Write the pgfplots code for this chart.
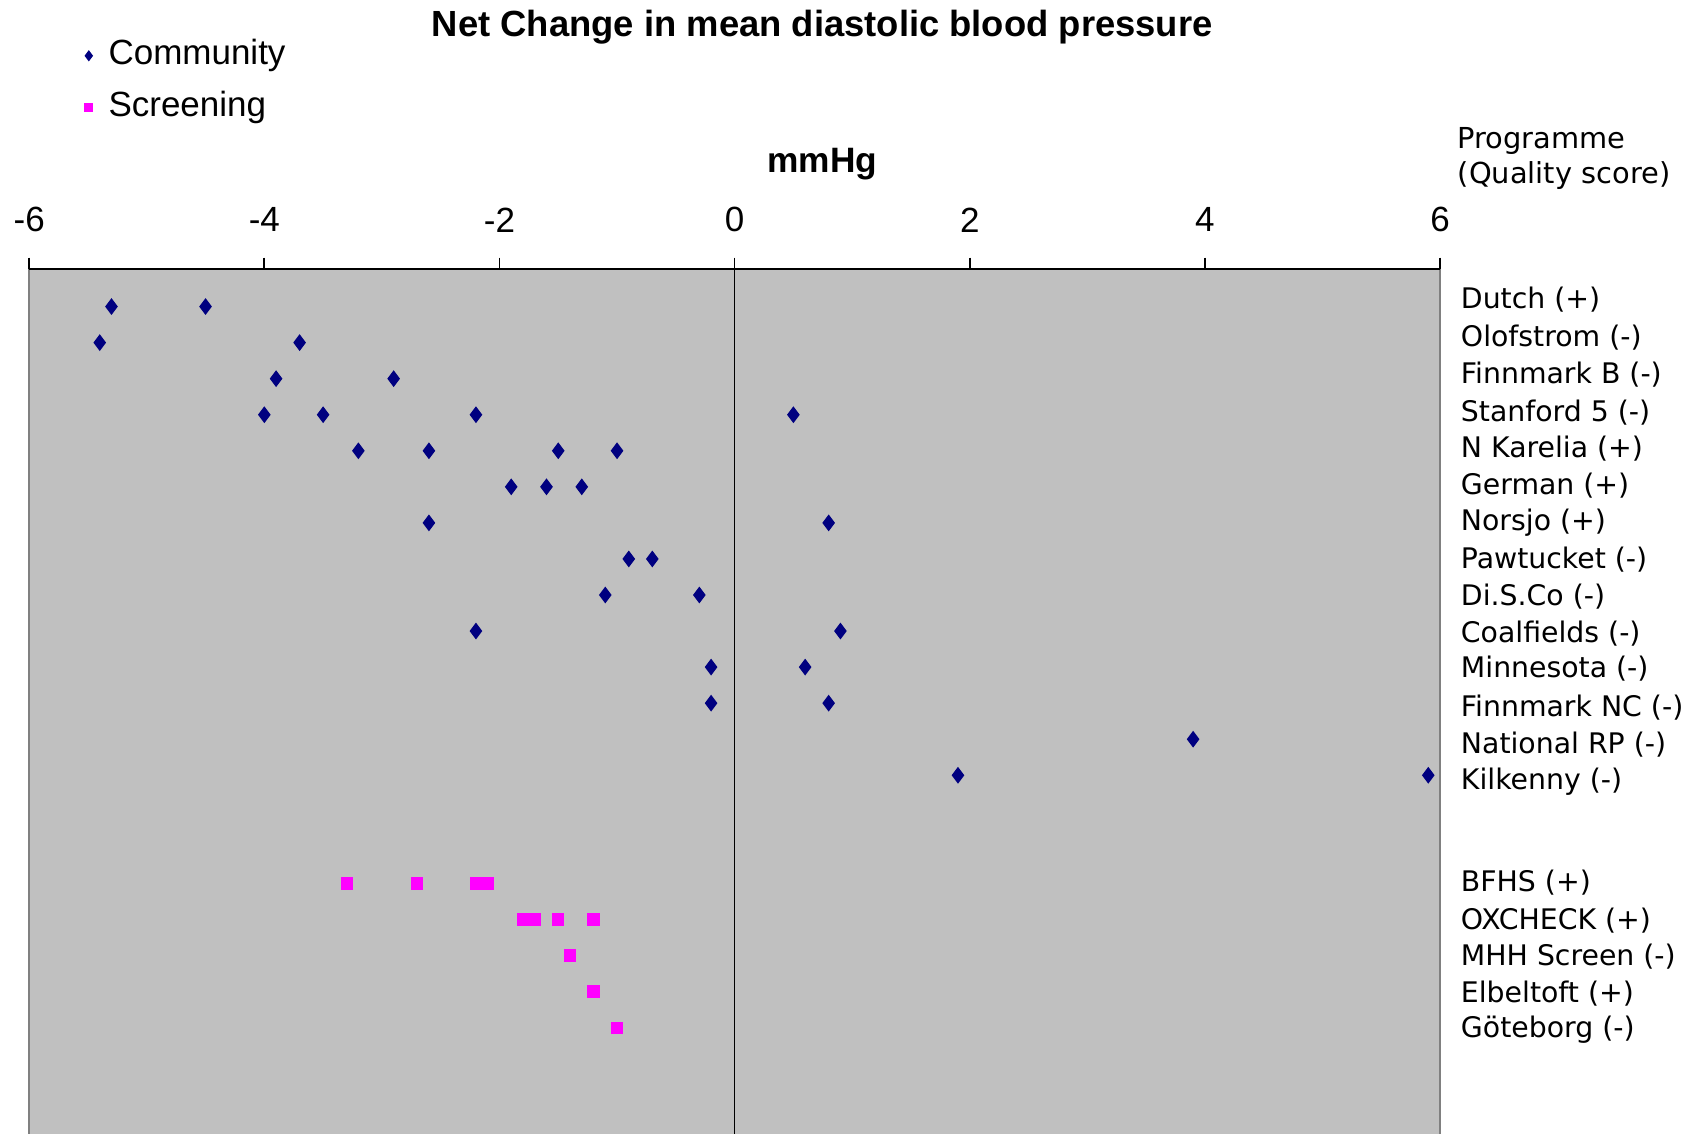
\documentclass[border=0pt]{standalone}
\usepackage{fontspec}
\setmainfont{Liberation Sans}
\newfontfamily\dejavu{DejaVu Sans}
\usepackage{pgfplots}
\usepackage{pgfplotstable}
\pgfplotsset{compat=1.18}
\definecolor{navyc}{RGB}{0,0,128}
\definecolor{magc}{RGB}{255,0,255}
\definecolor{bgc}{RGB}{192,192,192}
\definecolor{edgec}{RGB}{128,128,128}

\pgfplotstableread{
x y
-5.3 1
-4.5 1
-5.4 2
-3.7 2
-3.9 3
-2.9 3
-4.0 4
-3.5 4
-2.2 4
0.5 4
-3.2 5
-2.6 5
-1.5 5
-1.0 5
-1.9 6
-1.6 6
-1.3 6
-2.6 7
0.8 7
-0.9 8
-0.7 8
-1.1 9
-0.3 9
-2.2 10
0.9 10
-0.2 11
0.6 11
-0.2 12
0.8 12
3.9 13
1.9 14
5.9 14
}\community

\pgfplotstableread{
x y
-3.3 17
-2.7 17
-2.2 17
-2.1 17
-1.8 18
-1.7 18
-1.5 18
-1.2 18
-1.4 19
-1.2 20
-1.0 21
}\screening

\begin{document}
\begin{tikzpicture}[x=1pt,y=1pt]
\useasboundingbox (0,0) rectangle (611.28,408.24);
\begin{axis}[
  at={(10.51pt,0pt)}, anchor=south west,
  scale only axis, width=507.9pt, height=311.5pt,
  xmin=-6, xmax=6, ymin=-0.05, ymax=23.95, y dir=reverse,
  axis background/.style={fill=bgc},
  axis line style={draw=none},
  xtick={-6,-4,-2,0,2,4,6},
  xticklabels={-6,-4,-2,0,2,4,6},
  xtick pos=right, xticklabel pos=right,
  tick align=outside, major tick length=4pt,
  xtick style={black, line width=0.6pt},
  xticklabel style={anchor=center, yshift=13.6pt, font=\fontsize{12.6}{15}\selectfont},
  ytick={0.81,1.86,2.88,3.94,4.93,5.98,7.00,8.02,9.04,10.06,11.05,12.13,13.15,14.18,16.97,18.02,19.04,20.06,21.05},
  yticklabels={Dutch (+), Olofstrom (-), Finnmark B (-), Stanford 5 (-), N Karelia (+), German (+), Norsjo (+), Pawtucket (-), Di.S.Co (-), Coalfields (-), Minnesota (-), Finnmark NC (-), National RP (-), Kilkenny (-), BFHS (+), OXCHECK (+), MHH Screen (-), Elbeltoft (+), Göteborg (-)},
  yticklabel pos=right, ytick style={draw=none},
  yticklabel style={anchor=west, xshift=0pt, font=\dejavu\fontsize{10.2}{12}\selectfont},
  clip=false,
  legend image code/.code={\draw[mark repeat=2,mark phase=2,#1] plot coordinates {(0pt,0pt) (4pt,0pt) (8pt,0pt)};},
  legend style={draw=none, fill=none, at={(axis description cs:0.0332,1.2756)}, anchor=north west,
    row sep=4.7pt, font=\fontsize{12.6}{15}\selectfont,
    nodes={inner xsep=5.7pt, inner ysep=1pt, text height=9pt, text depth=3pt}},
  legend cell align=left,
]
\addplot[only marks, mark=diamond*, mark size=2.7pt, color=navyc, mark options={fill=navyc, draw=navyc}, legend image post style={mark size=1.7pt}] table[x=x,y=y] {\community};
\addlegendentry{Community}
\addplot[only marks, mark=square*, mark size=2pt, color=magc, mark options={fill=magc, draw=magc}, legend image post style={mark size=1.4pt}] table[x=x,y=y] {\screening};
\addlegendentry{Screening}
\draw[edgec, line width=0.6pt] (axis cs:-6,-0.05) -- (axis cs:-6,23.95);
\draw[edgec, line width=0.6pt] (axis cs:6,-0.05) -- (axis cs:6,23.95);
\draw[black, line width=0.6pt] (axis cs:0,-0.05) -- (axis cs:0,23.95);
\draw[black, line width=0.8pt] (axis cs:-6,-0.05) -- (axis cs:6,-0.05);
\end{axis}
\node[font=\bfseries\fontsize{13.1}{15}\selectfont] at (296,398.4) {Net Change in mean diastolic blood pressure};
\node[font=\bfseries\fontsize{12.7}{15}\selectfont] at (296,349.0) {mmHg};
\node[anchor=west, inner sep=0pt, font=\dejavu\fontsize{10.4}{12}\selectfont] at (524.6,357.3) {Programme};
\node[anchor=west, inner sep=0pt, font=\dejavu\fontsize{10.4}{12}\selectfont] at (524.6,345.0) {(Quality score)};
\end{tikzpicture}
\end{document}
